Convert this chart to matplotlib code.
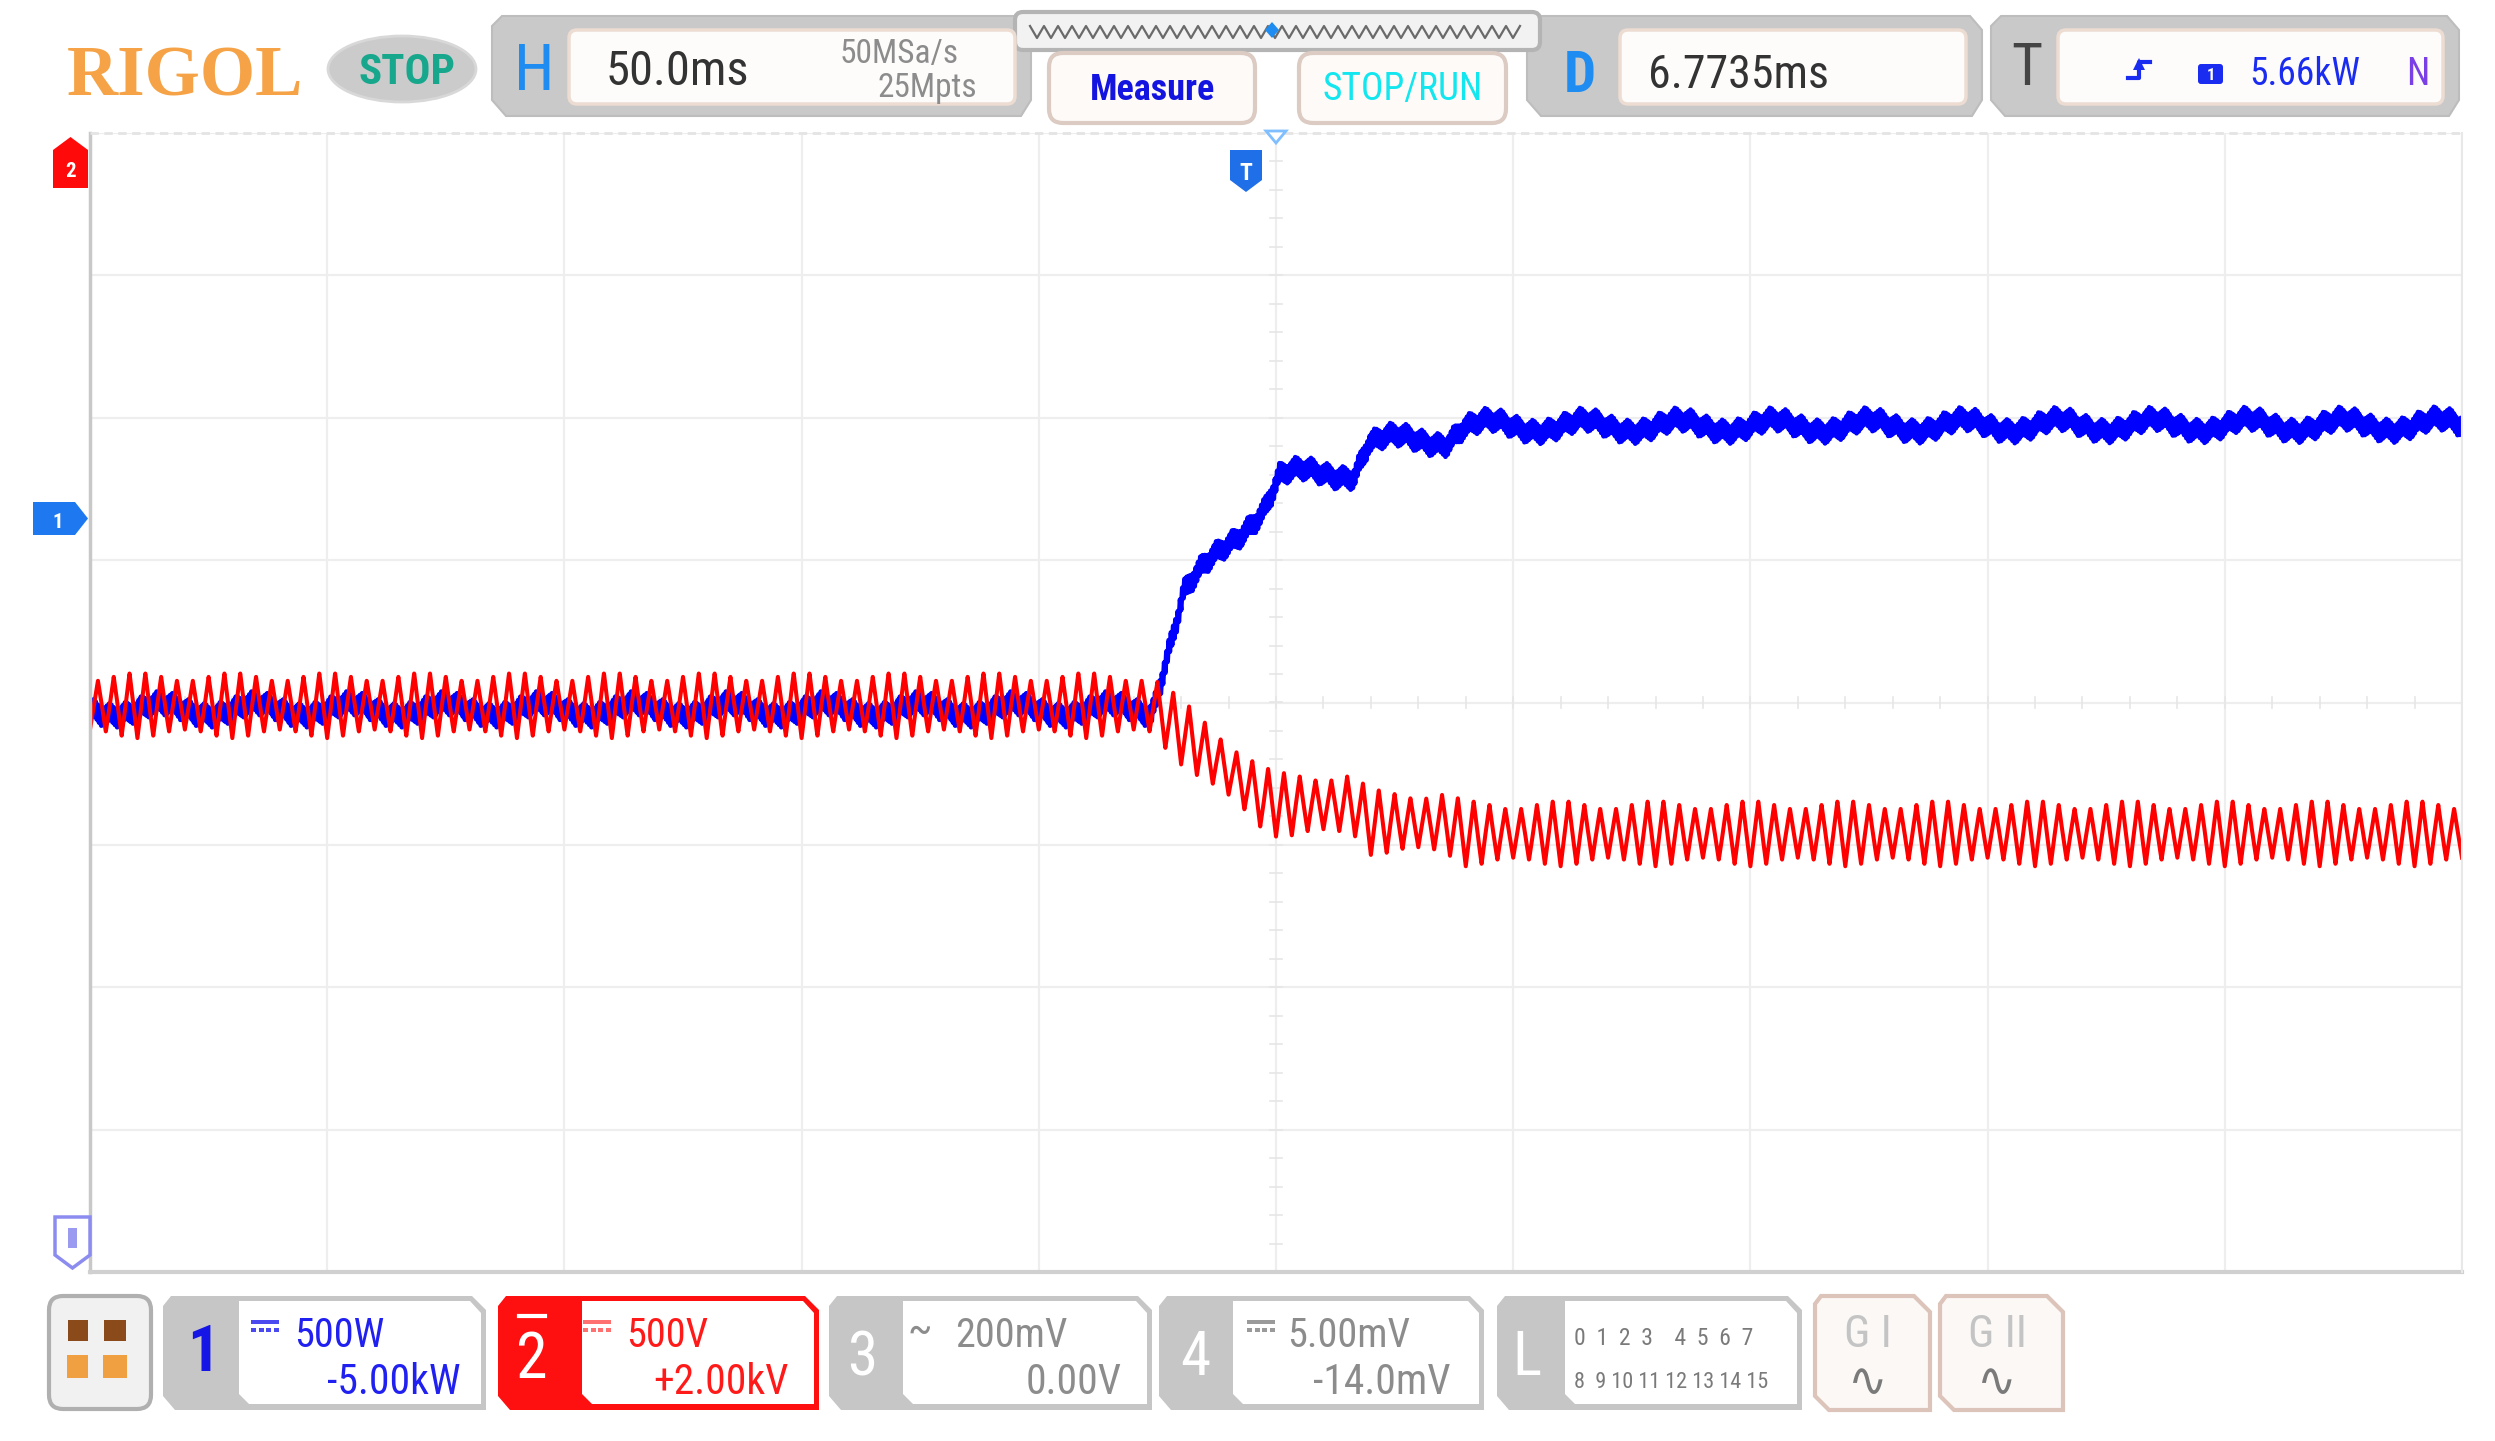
import numpy as np
import matplotlib
matplotlib.use("Agg")
import matplotlib.pyplot as plt
from matplotlib.patches import Polygon, FancyBboxPatch, Rectangle, Ellipse
from matplotlib import font_manager as fm

time_per_div_ms = 50.0
ch1_scale_kw, ch1_offset_kw = 0.5, -5.0      # 500W/div, -5.00kW
ch2_scale_kv, ch2_offset_kv = 0.5, 2.0       # 500V/div, +2.00kV

knot_t_ms    = [-250, -26.2, -19.5, -2.5, 0.7, 16.5, 19.5, 36.0, 39.5, 250]
ch1_level_kw = [4.975, 4.975, 5.385, 5.69, 5.795, 5.81, 5.915, 5.925, 5.97, 5.975]
ch2_level_kv = [-2.01, -2.01, -2.11, -2.34, -2.36, -2.36, -2.42, -2.425, -2.46, -2.46]

ripple_hz = 300.0          # ripple on both traces
mains_hz = 50.0            # slow wobble
hf_hz = 2100.0             # fine noise band on CH1
ch1_ripple_pp_kw = 0.03
ch1_wobble_kw = 0.022
ch1_noise_pp_kw = 0.06
ch2_ripple_pp_kv = 0.20
ch2_ripple_mod = 0.15

# ---------------- figure ----------------
W, H = 2495, 1441
fig = plt.figure(figsize=(W / 100, H / 100), dpi=100)
fig.patch.set_facecolor("white")

avail = {f.name for f in fm.fontManager.ttflist}
NARROW = next((f for f in ["Roboto Condensed", "Liberation Sans Narrow",
                           "Open Sans Condensed"] if f in avail), "Liberation Sans")
SERIF = "Liberation Serif" if "Liberation Serif" in avail else "DejaVu Serif"

# scope grid area (pixels)
gx0, gx1, gy0, gy1 = 90, 2462, 133, 1272
ax = fig.add_axes([gx0 / W, 1 - gy1 / H, (gx1 - gx0) / W, (gy1 - gy0) / H])
ax.set_xlim(-5 * time_per_div_ms, 5 * time_per_div_ms)
ax.set_ylim(-4, 4)
ax.axis("off")

for k in range(-5, 6):
    ax.axvline(k * time_per_div_ms, color="#eeeeee", lw=1.6, zorder=0)
for k in range(-4, 5):
    ax.axhline(k, color="#eeeeee", lw=1.6, zorder=0)
# center-line minor ticks
for k in np.arange(-5, 5.01, 0.2):
    ax.plot([k * time_per_div_ms] * 2, [-0.04, 0.04], color="#e6e6e6", lw=1.2, zorder=0)
for k in np.arange(-4, 4.01, 0.2):
    ax.plot([-1.3, 1.3], [k, k], color="#e6e6e6", lw=1.2, zorder=0)

t = np.linspace(-250, 250, 20001)
def tri(x):
    return 2 * np.abs(2 * (x - np.floor(x + 0.5))) - 1

p1 = (np.interp(t, knot_t_ms, ch1_level_kw)
      + ch1_ripple_pp_kw / 2 * tri(ripple_hz * t / 1000 + 0.25)
      + ch1_wobble_kw * np.sin(2 * np.pi * mains_hz * t / 1000)
      + ch1_noise_pp_kw / 2 * tri(hf_hz * t / 1000))
v2 = (np.interp(t, knot_t_ms, ch2_level_kv)
      + ch2_ripple_pp_kv / 2 * tri(ripple_hz * t / 1000)
      * (1 + ch2_ripple_mod * np.cos(2 * np.pi * mains_hz * t / 1000)))
d1 = (p1 + ch1_offset_kw) / ch1_scale_kw
d2 = (v2 + ch2_offset_kv) / ch2_scale_kv
ax.plot(t, d1, color="#0000ff", lw=3.4, zorder=3)
ax.plot(t, d2, color="#ff0000", lw=2.9, zorder=4)

# ---------------- UI overlay ----------------
ui = fig.add_axes([0, 0, 1, 1], zorder=5)
ui.set_xlim(0, W)
ui.set_ylim(H, 0)
ui.axis("off")
ui.patch.set_alpha(0)

def poly(pts, fc, ec="none", lw=0, z=1):
    ui.add_patch(Polygon(pts, closed=True, fc=fc, ec=ec, lw=lw, zorder=z))

def rbox(x, y, w, h, r, fc, ec="none", lw=0, z=1):
    ui.add_patch(FancyBboxPatch((x, y), w, h, boxstyle=f"round,pad=0,rounding_size={r}",
                                fc=fc, ec=ec, lw=lw, zorder=z))

def txt(x, y, s, size, color, ha="left", weight="normal", family=None, z=5):
    ui.text(x, y, s, fontsize=size, color=color, ha=ha, va="baseline",
            fontweight=weight, family=family or NARROW, zorder=z)

# grid borders
ui.plot([gx0, gx0], [gy0, gy1], color="#c8c8c8", lw=2.5, zorder=0.5)
ui.plot([gx0, gx1], [gy1, gy1], color="#d0d0d0", lw=3, zorder=0.5)
ui.plot([gx0, gx1], [gy0, gy0], color="#e4e4e4", lw=2, ls=(0, (3, 2)), zorder=0.5)
ui.plot([gx1, gx1], [gy0, gy1], color="#e8e8e8", lw=1.5, zorder=0.5)

# --- top bar ---
txt(67, 95, "RIGOL", 51, "#f5a346", weight="bold", family=SERIF)
ui.add_patch(Ellipse((402, 69), 148, 66, fc="#cbcbcb", ec="#d8d8d8", lw=2, zorder=1))
txt(407, 84, "STOP", 31, "#17a78c", ha="center", weight="bold")

def top_panel(x0, x1, xin):
    poly([(x0, 26), (x0 + 10, 16), (x1 - 12, 16), (x1, 30), (x1, 100), (x1 - 10, 116),
          (x0 + 14, 116), (x0, 100)], "#c9c9c9", ec="#bdbdbd", lw=1.5)
    rbox(xin, 30, x1 - 16 - xin, 74, 8, "#fefcfb", ec="#ecdcd2", lw=2.5, z=2)

top_panel(492, 1031, 569)
top_panel(1527, 1982, 1620)
top_panel(1991, 2459, 2058)

txt(534, 90, "H", 47, "#1e8cf0", ha="center")
txt(606, 85, "50.0ms", 35, "#333333")
txt(959, 63, "50MSa/s", 24, "#8c8c8c", ha="right")
txt(977, 97, "25Mpts", 24, "#8c8c8c", ha="right")
txt(1580, 92, "D", 41, "#1e8cf0", ha="center", weight="bold")
txt(1648, 88, "6.7735ms", 33, "#333333")
txt(2027, 85, "T", 43, "#444444", ha="center")
txt(2249, 85, "5.66kW", 27, "#1a2cf0")
txt(2406, 85, "N", 27, "#7a40e6")
# trigger slope icon and source square
ui.plot([2128, 2139, 2139, 2150], [78, 78, 62, 62], color="#1a2cf0", lw=3, zorder=5)
poly([(2133, 70), (2139, 58), (2145, 70)], "#1a2cf0", z=5)
rbox(2198, 64, 25, 20, 3, "#1a2cf0", z=5)
txt(2210.5, 80, "1", 12, "white", ha="center", weight="bold")

# waveform strip
rbox(1015, 12, 525, 38, 8, "#f2f2f2", ec="#b4b4b4", lw=3, z=1)
zx = np.arange(1030, 1526, 7.0)
zy = np.where(np.arange(len(zx)) % 2 == 0, 26, 38)
ui.plot(zx, zy, color="#6a6a6a", lw=1.6, zorder=2)
poly([(1272, 22), (1279, 30), (1272, 38), (1265, 30)], "#1e8cf0", z=3)

# buttons
rbox(1049, 53, 206, 70, 14, "#fdfaf8", ec="#dccbc2", lw=3, z=1)
rbox(1299, 53, 207, 70, 14, "#fdfaf8", ec="#dccbc2", lw=3, z=1)
txt(1152, 100, "Measure", 26, "#1414e0", ha="center", weight="bold")
txt(1403, 100, "STOP/RUN", 27, "#12e6ee", ha="center")

# --- markers ---
poly([(53, 150), (70.5, 137), (88, 150), (88, 188), (53, 188)], "#ff0a0a", z=6)
txt(70.5, 177, "2", 15, "white", ha="center", weight="bold", z=7)
poly([(33, 502), (75, 502), (88, 518.5), (75, 535), (33, 535)], "#1e78f0", z=6)
txt(58, 528, "1", 15, "white", ha="center", weight="bold", z=7)
poly([(55, 1217), (90, 1217), (90, 1255), (72.5, 1268), (55, 1255)], "white",
     ec="#8c8cf0", lw=2.5, z=6)
ui.add_patch(Rectangle((68, 1228), 9, 20, fc="#9a9af0", zorder=7))
poly([(1230, 150), (1262, 150), (1262, 180), (1246, 192), (1230, 180)], "#1e6fe8", z=6)
txt(1246, 180, "T", 17, "white", ha="center", weight="bold", z=7)
poly([(1266, 131), (1286, 131), (1276, 143)], "white", ec="#7fbfff", lw=2, z=6)

# --- bottom bar ---
rbox(49, 1296, 102, 113, 14, "#f1f1f1", ec="#b0b0b0", lw=3, z=1)
for (x, y, w, h, c) in [(68, 1320, 20, 21, "#8a4a1a"), (104, 1320, 22, 21, "#8a4a1a"),
                        (67, 1355, 21, 23, "#f0a040"), (103, 1355, 24, 23, "#f0a040")]:
    ui.add_patch(Rectangle((x, y), w, h, fc=c, zorder=2))

def ch_box(x0, x1, tab, outer):
    poly([(x0 + 8, 1296), (x1 - 14, 1296), (x1, 1310), (x1, 1410), (x0 + 12, 1410),
          (x0, 1396), (x0, 1306)], outer, z=1)
    poly([(x0 + tab, 1301), (x1 - 16, 1301), (x1 - 5, 1313), (x1 - 5, 1404),
          (x0 + tab + 10, 1404), (x0 + tab, 1394)], "white", z=2)

ch_box(163, 486, 76, "#c6c6c6")
ch_box(498, 819, 84, "#ff1010")
ch_box(829, 1152, 74, "#c6c6c6")
ch_box(1159, 1484, 74, "#c6c6c6")
ch_box(1497, 1802, 68, "#c6c6c6")

def dc_icon(x, y, c):
    ui.add_patch(Rectangle((x, y), 28, 4, fc=c, zorder=4))
    for k in range(4):
        ui.add_patch(Rectangle((x + k * 7.5, y + 8), 5, 4, fc=c, zorder=4))

txt(203, 1371, "1", 46, "#1515e6", ha="center", weight="bold")
dc_icon(251, 1320, "#4a4af0")
txt(294, 1347, "500W", 29, "#2020f0")
txt(461, 1394, "-5.00kW", 30, "#2020f0", ha="right")

txt(532, 1378, "2", 46, "white", ha="center")
ui.plot([519, 545], [1316, 1316], color="white", lw=3, zorder=5)
dc_icon(583, 1320, "#ff7070")
txt(626, 1347, "500V", 29, "#ff1a1a")
txt(789, 1394, "+2.00kV", 30, "#ff1a1a", ha="right")

txt(862, 1375, "3", 44, "white", ha="center")
txt(907, 1342, "~", 30, "#8c8c8c")
txt(955, 1347, "200mV", 29, "#8c8c8c")
txt(1122, 1394, "0.00V", 30, "#8c8c8c", ha="right")

txt(1195, 1375, "4", 44, "white", ha="center")
dc_icon(1247, 1320, "#9a9a9a")
txt(1287, 1347, "5.00mV", 29, "#8c8c8c")
txt(1451, 1394, "-14.0mV", 30, "#8c8c8c", ha="right")

txt(1527, 1375, "L", 44, "white", ha="center")
txt(1574, 1345, "0  1  2  3    4  5  6  7", 17, "#7a7a7a")
txt(1574, 1388, "8  9 10 11 12 13 14 15", 16, "#7a7a7a")

for (x0, x1) in [(1815, 1930), (1940, 2063)]:
    poly([(x0 + 6, 1296), (x1 - 16, 1296), (x1, 1312), (x1, 1410), (x0 + 14, 1410),
          (x0, 1396), (x0, 1304)], "#fbf8f6", ec="#dcc4ba", lw=3, z=1)
txt(1868, 1347, "G I", 32, "#c4c4c4", ha="center")
txt(1868, 1396, "∿", 34, "#7a7a7a", ha="center", family="DejaVu Sans")
txt(1997, 1347, "G II", 32, "#c4c4c4", ha="center")
txt(1997, 1396, "∿", 34, "#7a7a7a", ha="center", family="DejaVu Sans")

fig.savefig("out.png", dpi=100, facecolor="white")
